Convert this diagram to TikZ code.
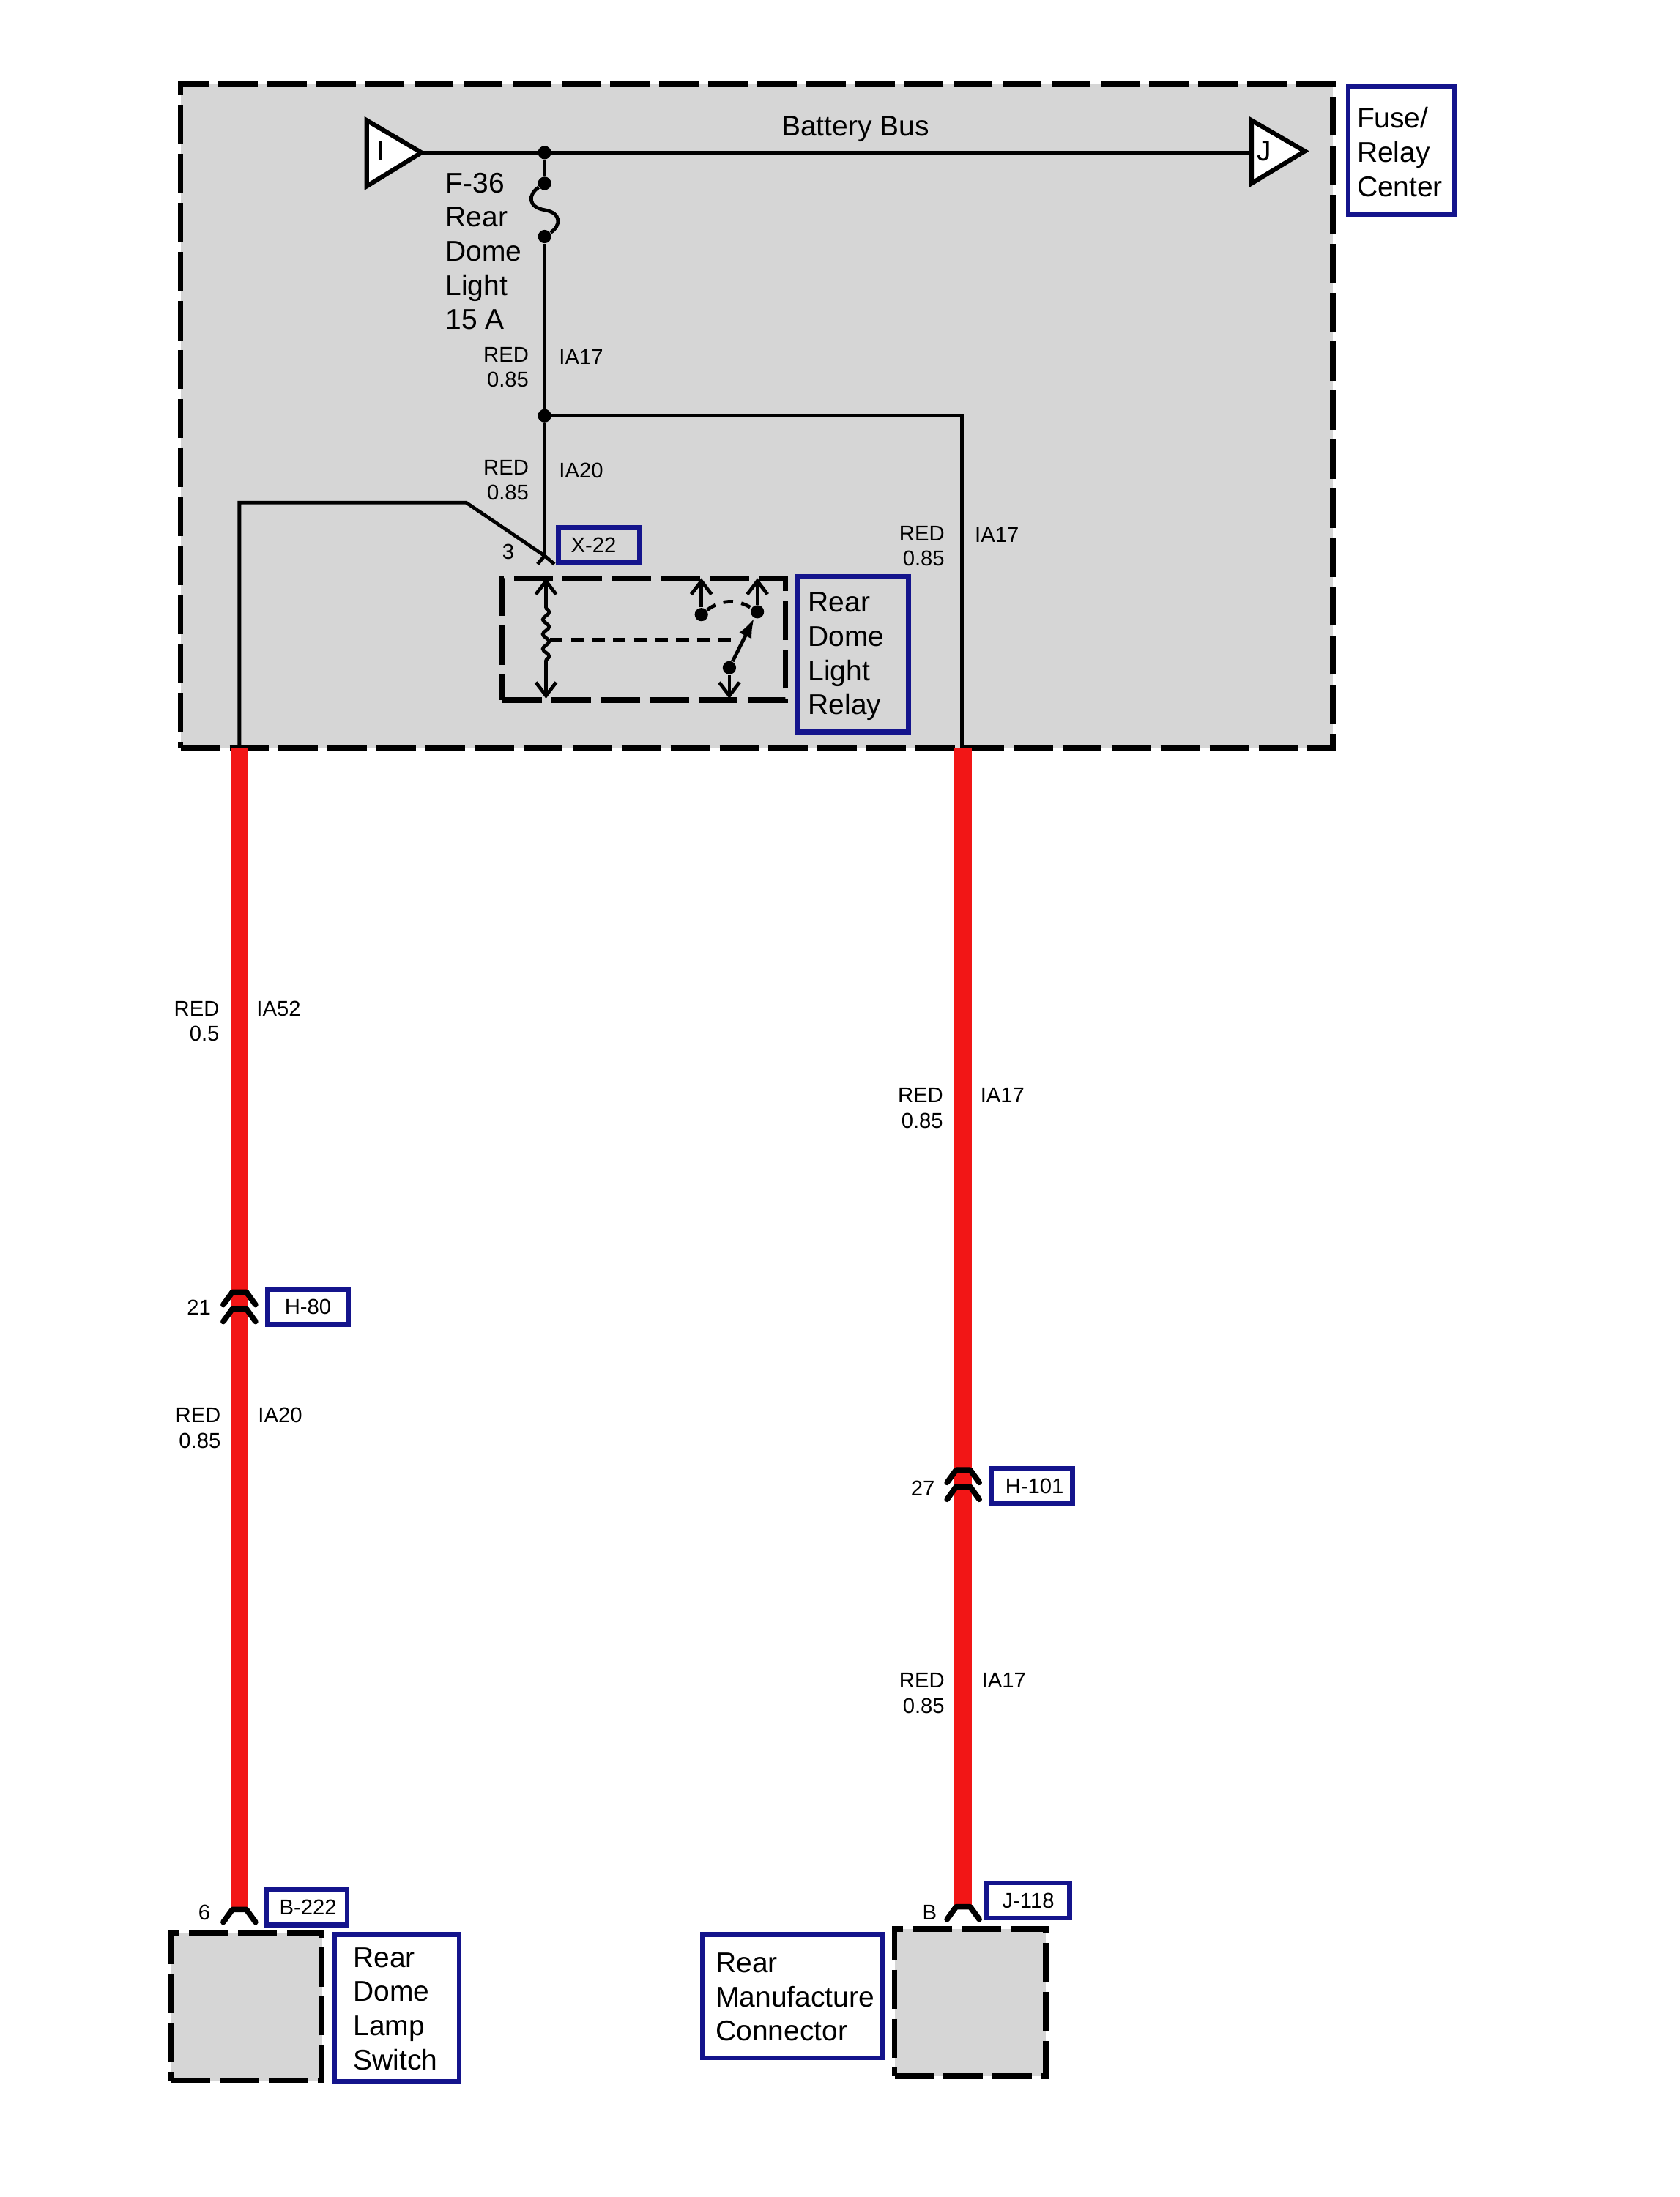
\documentclass[tikz,border=0pt]{standalone}
\usepackage{fontspec}
\setmainfont{Liberation Sans}
\usepackage{tikz}
\usetikzlibrary{arrows.meta}
\usetikzlibrary{decorations.pathmorphing}
\definecolor{panelgray}{HTML}{D6D6D6}
\definecolor{tagblue}{HTML}{14148C}
\definecolor{wirered}{HTML}{F21616}
\tikzset{
  panel/.style={rectangle, draw=black, line width=0.8mm, dash pattern=on 5.6mm off 1.4mm, fill=panelgray, outer sep=0pt, anchor=north west},
  tag/.style={rectangle, draw=tagblue, line width=0.7mm, outer sep=0pt, anchor=north west},
  big/.style={font=\fontsize{11.6}{13.9}\selectfont, align=left, inner sep=0pt, anchor=west},
  small/.style={font=\fontsize{8.7}{10.3}\selectfont, inner sep=0pt},
  gauge/.style={small, align=right, anchor=east},
  circuit/.style={small, anchor=west},
  wire/.style={line width=0.5mm},
  harness/.style={draw=wirered, line width=2.5mm},
  junction/.style={circle, fill=black, inner sep=0pt, minimum size=1.9mm},
  chevron/.pic={\draw [line width=0.8mm, line cap=round, line join=round] (-11.5,9) -- (-5,0) -- (5,0) -- (11.5,9);}
}
\begin{document}
\begin{tikzpicture}[x=0.2mm, y=-0.2mm]
\useasboundingbox (-1,-1) rectangle (1199,1568.4);

% fuse and relay center
\node at (128,59) [panel, minimum width=164.6mm, minimum height=94.8mm] (center) {};
\node at (358,412) [panel, minimum width=40.4mm, minimum height=17.4mm] (relay) {};
\node at (121,1380) [panel, minimum width=21.6mm, minimum height=21mm] (switch) {};
\node at (638,1377) [panel, minimum width=21.6mm, minimum height=21mm] (manuf) {};

\node at (962,61) [tag, fill=white, minimum width=15.2mm, minimum height=18.2mm] (centertag) {};
\node [big] at (968,107.5) {Fuse/\\Relay\\Center};
\node at (569,411) [tag, minimum width=15.8mm, minimum height=22.2mm] (relaytag) {};
\node [big] at (576,468) {Rear\\Dome\\Light\\Relay};
\node at (398,376) [tag, minimum width=11.6mm, minimum height=5mm] (xtag) {};
\node [small] at ([xshift=-0.8mm]xtag.center) {X-22};

\node at (190,920) [tag, fill=white, minimum width=11.6mm, minimum height=5mm] (htag) {};
\node [small] at (htag.center) {H-80};
\node at (707,1048) [tag, fill=white, minimum width=11.6mm, minimum height=5mm] (hhtag) {};
\node [small] at ([xshift=0.4mm]hhtag.center) {H-101};
\node at (189,1349) [tag, fill=white, minimum width=11.6mm, minimum height=5mm] (btag) {};
\node [small] at ([xshift=0.2mm]btag.center) {B-222};
\node at (704,1344) [tag, fill=white, minimum width=11.8mm, minimum height=5mm] (jtag) {};
\node [small] at (jtag.center) {J-118};
\node at (238,1381) [tag, fill=white, minimum width=17.8mm, minimum height=21mm] (switchtag) {};
\node [big] at (251,1434) {Rear\\Dome\\Lamp\\Switch};
\node at (501,1381) [tag, fill=white, minimum width=25.6mm, minimum height=17.6mm] (manuftag) {};
\node [big] at (510,1425.5) {Rear\\Manufacture\\Connector};

% connection points
\coordinate (busI) at (300,108);
\coordinate (busJ) at (893,108);
\node at (388,108) [junction] (bustap) {};
\node at (388,130) [junction] (fusetop) {};
\coordinate (fusemid) at (388,149);
\node at (388,168) [junction] (fusebot) {};
\node at (388,296) [junction] (split) {};
\coordinate (pinthree) at (388,396);
\coordinate (leftbend) at (332,358);
\coordinate (leftcorner) at (170,358);
\coordinate (leftexit) at (170,533);
\coordinate (rightcorner) at (686,296);
\coordinate (rightexit) at (686,533);
\coordinate (leftdrop) at (170,1362);
\coordinate (rightexitred) at (687,533);
\coordinate (rightdrop) at (687,1360);
\coordinate (coiltop) at (389,433);
\coordinate (coilbot) at (389,476);
\coordinate (coilmid) at (392,456);
\coordinate (armmid) at (525,456);
\node at (500,438) [junction] (contactno) {};
\node at (540,436) [junction] (contactcom) {};
\node at (520,476) [junction] (contactarm) {};

% wires inside the center
\draw [wire] (busI) -- (bustap) -- (busJ);
\draw [wire] (bustap) -- (fusetop);
\draw [wire] (fusetop) .. controls (376,138) and (376,147) .. (fusemid) .. controls (400,151) and (400,160) .. (fusebot);
\draw [wire] (fusebot) -- (split) -- (pinthree);
\draw [wire] (split) -- (rightcorner) -- (rightexit);
\draw [wire] (pinthree) -- (leftbend) -- (leftcorner) -- (leftexit);
\draw [wire, line join=round] (383,402) -- (pinthree) -- (395,402);

% terminals
\draw [line width=0.65mm, fill=white, line join=miter] (261,85) -- (busI) -- (261,132) -- cycle;
\draw [line width=0.65mm, fill=white, line join=miter] (893,85) -- (931,107) -- (893,130) -- cycle;
\node [big, anchor=center] at (271,107) {I};
\node [big, anchor=center] at (902,107) {J};

% relay
\begin{scope}[>={Straight Barb[length=1.9mm, width=2.9mm]}]
	\draw [wire, ->] (coiltop) -- (389,412);
	\draw [wire, ->] (coilbot) -- (389,498);
	\draw [wire, decorate, decoration={snake, segment length=2.1mm, amplitude=0.45mm}] (coiltop) -- (coilbot);
	\draw [wire, ->] (contactno) -- (500,412);
	\draw [wire, ->] (contactcom) -- (540,412);
	\draw [wire, ->] (contactarm) -- (520,498);
	\draw [wire, -{Latex[length=2.8mm, width=2mm]}] (contactarm) -- (contactcom);
	\draw [wire, dash pattern=on 1.8mm off 1.2mm] (coilmid) -- (armmid);
	\draw [wire, dash pattern=on 1.4mm off 1.2mm] (contactno) to [bend left=35] (contactcom);
\end{scope}

% harness
\draw [harness] (leftexit) -- (leftdrop);
\draw [harness] (rightexitred) -- (rightdrop);

\pic at (170,922) {chevron};
\pic at (170,934) {chevron};
\pic at (687,1049) {chevron};
\pic at (687,1061) {chevron};
\pic at (170,1363) {chevron};
\pic at (687,1361) {chevron};

% labels
\node [big] at (317,178.5) {F-36\\Rear\\Dome\\Light\\15 A};
\node [big, anchor=center] at (610,91) {Battery Bus};

\node [gauge] at (377,261.5) {RED\\0.85};
\node [circuit] at (398,254) {IA17};
\node [gauge] at (377,342) {RED\\0.85};
\node [circuit] at (398,335) {IA20};
\node [gauge] at (674,389) {RED\\0.85};
\node [circuit] at (695,381) {IA17};
\node [gauge] at (156,728.5) {RED\\0.5};
\node [circuit] at (182,719.5) {IA52};
\node [gauge] at (157,1019) {RED\\0.85};
\node [circuit] at (183,1010) {IA20};
\node [gauge] at (673,790.5) {RED\\0.85};
\node [circuit] at (699,781.5) {IA17};
\node [gauge] at (674,1208.5) {RED\\0.85};
\node [circuit] at (700,1199.5) {IA17};

\node [small, anchor=center] at (362,393) {3};
\node [small, anchor=east] at (150,933) {21};
\node [small, anchor=east] at (667,1062) {27};
\node [small, anchor=center] at (145,1365) {6};
\node [small, anchor=center] at (663,1365) {B};

\end{tikzpicture}
\end{document}
